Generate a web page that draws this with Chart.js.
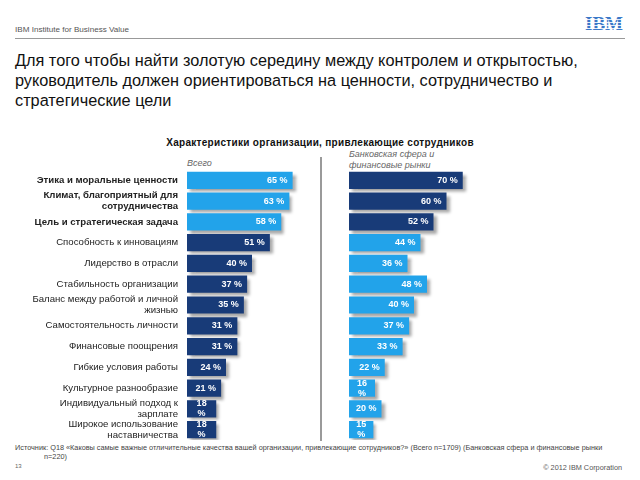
<!DOCTYPE html>
<html><head><meta charset="utf-8">
<script src="https://cdn.jsdelivr.net/npm/chart.js@4"></script>
<style>
html,body{margin:0;padding:0;background:#fff;width:640px;height:480px;overflow:hidden;font-family:"Liberation Sans",Arial,sans-serif;}
.abs{position:absolute;white-space:nowrap;}
#hdr{left:15px;top:25px;font-size:8.1px;color:#555;}
#hline{left:15px;top:38px;width:610px;height:1px;background:#999;}
#logo{left:585px;top:13px;font-family:"Liberation Serif",serif;font-weight:bold;font-size:19px;color:#3a78c8;
 background:repeating-linear-gradient(to bottom,transparent 0,transparent 2px,#fff 2px,#fff 3px);}
#logoMask{left:583px;top:14px;width:46px;height:20px;background:repeating-linear-gradient(to bottom,transparent 0,transparent 2px,rgba(255,255,255,0.85) 2px,rgba(255,255,255,0.85) 3px);}
#title{left:15px;top:50px;font-size:16.3px;line-height:20px;color:#111;}
#ctitle{left:0;width:640px;top:137px;text-align:center;font-size:10px;font-weight:bold;color:#111;letter-spacing:0.3px;}
#vs{left:187px;top:158px;font-size:9px;font-style:italic;color:#666;}
#bk{left:349px;top:149px;font-size:9px;font-style:italic;color:#666;line-height:11px;}
#sep{left:320px;top:157px;width:1.5px;height:284px;background:#9a9a9a;}
#src{left:15px;top:443px;font-size:7.3px;color:#444;line-height:9px;}
#pg{left:15px;top:463px;font-size:6px;color:#666;}
#copy{right:18px;top:463px;font-size:7.3px;color:#555;}
</style></head><body>
<div class="abs" id="hdr">IBM Institute for Business Value</div>
<div class="abs" id="hline"></div>
<div class="abs" id="logo">IBM</div>
<div class="abs" id="logoMask"></div>
<div class="abs" id="title">Для того чтобы найти золотую середину между контролем и открытостью,<br>руководитель должен ориентироваться на ценности, сотрудничество и<br>стратегические цели</div>
<div class="abs" id="ctitle">Характеристики организации, привлекающие сотрудников</div>
<div class="abs" id="vs">Всего</div>
<div class="abs" id="bk">Банковская сфера и<br>финансовые рынки</div>
<div class="abs" id="sep"></div>
<div style="position:absolute;left:0;top:170px;width:320px;height:270px"><canvas id="c1"></canvas></div>
<div style="position:absolute;left:349px;top:170px;width:150px;height:270px"><canvas id="c2"></canvas></div>
<div class="abs" id="src">Источник: Q18 «Каковы самые важные отличительные качества вашей организации, привлекающие сотрудников?» (Всего n=1709) (Банковская сфера и финансовые рынки<br><span style="padding-left:29px">n=220)</span></div>
<div class="abs" id="pg">13</div>
<div class="abs" id="copy">© 2012 IBM Corporation</div>
<script>
const categories = [
  "Этика и моральные ценности",
  ["Климат, благоприятный для", "сотрудничества"],
  "Цель и стратегическая задача",
  "Способность к инновациям",
  "Лидерство в отрасли",
  "Стабильность организации",
  ["Баланс между работой и личной", "жизнью"],
  "Самостоятельность личности",
  "Финансовые поощрения",
  "Гибкие условия работы",
  "Культурное разнообразие",
  ["Индивидуальный подход к", "зарплате"],
  ["Широкое использование", "наставничества"]
];
const totalValues = [65, 63, 58, 51, 40, 37, 35, 31, 31, 24, 21, 18, 18];
const bankingValues = [70, 60, 52, 44, 36, 48, 40, 37, 33, 22, 16, 20, 15];
const boldRows = [0, 1, 2];
const LIGHT = '#22a3ea', DARK = '#183b78';
const totalColors = totalValues.map((v, i) => i < 3 ? LIGHT : DARK);
const bankColors = bankingValues.map((v, i) => i < 3 ? DARK : LIGHT);

const shadowPlugin = {
  id: 'shadowLabels',
  beforeDatasetsDraw(chart) {
    const c = chart.ctx; c.save();
    c.shadowColor = 'rgba(0,0,0,0.35)'; c.shadowOffsetX = 3; c.shadowOffsetY = 3; c.shadowBlur = 3;
  },
  afterDatasetsDraw(chart) {
    const c = chart.ctx; c.restore();
    const meta = chart.getDatasetMeta(0);
    const data = chart.data.datasets[0].data;
    c.save();
    c.fillStyle = '#fff';
    c.font = 'bold 9px "Liberation Sans", Arial, sans-serif';
    meta.data.forEach((bar, i) => {
      const v = data[i];
      if (v <= 18) {
        c.textAlign = 'center'; c.textBaseline = 'middle';
        const cx = (bar.base + bar.x) / 2;
        c.fillText(String(v), cx, bar.y - 5);
        c.fillText('%', cx, bar.y + 5);
      } else {
        c.textAlign = 'right'; c.textBaseline = 'middle';
        c.fillText(v + ' %', bar.x - 5, bar.y);
      }
    });
    c.restore();
  }
};

function makeChart(id, values, colors, showLabels) {
  return new Chart(document.getElementById(id), {
    type: 'bar',
    data: { labels: categories, datasets: [{ data: values, backgroundColor: colors, borderWidth: 0,
      categoryPercentage: 1, barPercentage: 0.83 }] },
    options: {
      indexAxis: 'y', responsive: true, maintainAspectRatio: false, animation: false,
      layout: { padding: { left: 0, right: showLabels ? 320 - 187 - 130 : 20, top: 0, bottom: 0 } },
      plugins: { legend: { display: false }, tooltip: { enabled: false } },
      scales: {
        x: { min: 0, max: 80, display: false },
        y: {
          display: showLabels,
          grid: { display: false, drawTicks: false },
          border: { display: false },
          afterFit(scale) {
            if (showLabels) { scale.width = 187; scale.paddingTop = 0; scale.paddingBottom = 0; }
          },
          ticks: {
            padding: 9, color: '#222', autoSkip: false,
            font: (ctx) => ({ family: '"Liberation Sans", Arial, sans-serif', size: 9.6,
              weight: boldRows.includes(ctx.index) ? 'bold' : 'normal', lineHeight: 1.15 })
          }
        }
      }
    },
    plugins: [shadowPlugin]
  });
}
makeChart('c1', totalValues, totalColors, true);
makeChart('c2', bankingValues, bankColors, false);
</script>
</body></html>
